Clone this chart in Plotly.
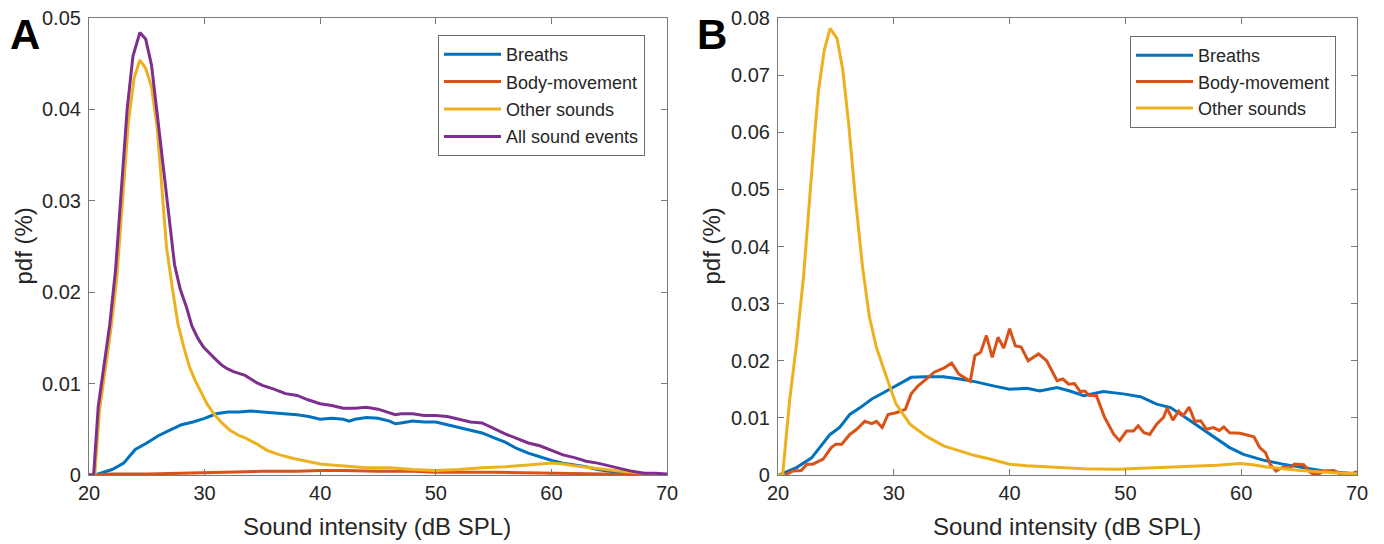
import plotly.graph_objects as go

# ---------------- Panel A data ----------------
a_all_x = [20.0, 20.4, 20.8, 21.3, 21.8, 22.3, 22.8, 23.3, 23.8, 24.4, 24.9, 25.4, 25.9, 26.4, 26.9,
           27.4, 27.9, 28.4, 28.9, 29.4, 29.9, 30.5, 31.0, 31.5, 32.0, 32.5, 33.0, 33.5, 34.0, 34.5,
           35.0, 36.0, 37.0, 38.0, 39.0, 40.0, 41.0, 42.0, 43.0, 44.0, 45.0, 46.0, 46.5, 47.0, 48.0,
           49.0, 50.0, 51.0, 52.0, 53.0, 54.0, 55.0, 56.0, 57.0, 58.0, 59.0, 60.0, 61.0, 62.0, 63.0,
           64.0, 65.0, 66.0, 67.0, 68.0, 69.0, 70.0]
a_all_y = [0, 0, 0.0075, 0.0120, 0.0165, 0.0225, 0.0310, 0.0400, 0.0458, 0.0484, 0.0477, 0.0449, 0.0395, 0.0340, 0.0290,
           0.0230, 0.0203, 0.0185, 0.0163, 0.0150, 0.0140, 0.0132, 0.0126, 0.0120, 0.0116, 0.0113, 0.0111, 0.0109, 0.0105, 0.0101,
           0.0098, 0.0094, 0.0089, 0.0087, 0.0082, 0.0078, 0.0076, 0.0073, 0.0073, 0.0074, 0.0072, 0.0068, 0.0066, 0.0067, 0.0067,
           0.0065, 0.0065, 0.0064, 0.0061, 0.0058, 0.0057, 0.0051, 0.0045, 0.0040, 0.0035, 0.0032, 0.0027, 0.0022, 0.0019, 0.0015,
           0.0013, 0.0010, 0.0007, 0.0004, 0.0002, 0.0002, 0.0001]

a_other_x = [20.0, 20.5, 20.9, 21.4, 21.9, 22.4, 22.9, 23.4, 23.9, 24.4, 24.9, 25.4, 25.9, 26.3, 26.7,
             27.2, 27.7, 28.2, 28.7, 29.2, 29.7, 30.2, 30.8, 31.5, 32.2, 33.0, 33.6, 34.5, 35.4, 36.5,
             37.7, 39.0, 40.0, 41.0, 42.0, 44.0, 46.0, 48.0, 50.0, 52.0, 54.0, 56.0, 58.0, 60.0, 61.0,
             62.0, 64.0, 66.0, 68.0, 70.0]
a_other_y = [0, 0, 0.0070, 0.0115, 0.0160, 0.0215, 0.0300, 0.0385, 0.0434, 0.0454, 0.0445, 0.0425, 0.0380, 0.0310, 0.0250,
             0.0205, 0.0165, 0.0140, 0.0118, 0.0103, 0.0090, 0.0078, 0.0067, 0.0057, 0.0049, 0.0043, 0.0040, 0.0034, 0.0027, 0.0022,
             0.0018, 0.0015, 0.0012, 0.0011, 0.0010, 0.0008, 0.0008, 0.0006, 0.0005, 0.0006, 0.0008, 0.0009, 0.0011, 0.0013, 0.0012,
             0.0010, 0.0007, 0.0004, 0.0002, 0.0000]

a_breath_x = [20.0, 20.5, 21.0, 22.0, 23.0, 23.5, 24.0, 25.0, 26.0, 27.0, 28.0, 29.0, 30.0, 31.0, 32.0,
              33.0, 34.0, 35.0, 36.0, 37.0, 38.0, 39.0, 40.0, 41.0, 42.0, 42.5, 43.0, 44.0, 45.0, 46.0,
              46.5, 47.0, 48.0, 49.0, 50.0, 51.0, 52.0, 53.0, 54.0, 55.0, 56.0, 57.0, 58.0, 59.0, 60.0,
              61.0, 62.0, 63.0, 64.0, 65.0, 66.0, 67.0, 68.0, 70.0]
a_breath_y = [0, 0, 0.0002, 0.0006, 0.0013, 0.0020, 0.0028, 0.0035, 0.0043, 0.0049, 0.0055, 0.0058, 0.0062, 0.0067, 0.0069,
              0.0069, 0.0070, 0.0069, 0.0068, 0.0067, 0.0066, 0.0064, 0.0061, 0.0062, 0.0061, 0.0059, 0.0061, 0.0063, 0.0062, 0.0059,
              0.0056, 0.0057, 0.0059, 0.0058, 0.0058, 0.0055, 0.0052, 0.0049, 0.0046, 0.0041, 0.0036, 0.0029, 0.0024, 0.0020, 0.0016,
              0.0013, 0.0011, 0.0009, 0.0006, 0.0004, 0.0003, 0.0002, 0.0001, 0.0]

a_body_x = [20.0, 22.0, 25.0, 28.0, 30.0, 32.0, 35.0, 38.0, 40.0, 42.0, 45.0, 48.0, 50.0, 55.0, 60.0, 65.0, 68.0, 70.0]
a_body_y = [0, 0.0001, 0.0001, 0.0002, 0.0002, 0.0003, 0.0004, 0.0004, 0.0005, 0.0005, 0.0004, 0.0004, 0.0003, 0.0003,
            0.0002, 0.0001, 0.0001, 0.0]

# ---------------- Panel B data ----------------
b_other_x = [20.0, 20.4, 21.0, 21.6, 22.2, 22.7, 23.2, 23.5, 24.0, 24.5, 25.1, 25.6, 26.1, 26.7, 27.3,
             27.9, 28.5, 29.4, 30.2, 31.4, 32.8, 34.3, 35.7, 37.0, 38.3, 40.0, 41.5, 43.5, 46.4, 49.2,
             52.1, 55.0, 57.9, 59.9, 61.0, 62.2, 65.1, 68.0, 70.0]
b_other_y = [0, 0, 0.0130, 0.0229, 0.0346, 0.0481, 0.0604, 0.0674, 0.0744, 0.0782, 0.0764, 0.0709, 0.0615, 0.0481, 0.0364,
             0.0276, 0.0223, 0.0170, 0.0124, 0.0089, 0.0068, 0.0051, 0.0042, 0.0034, 0.0028, 0.0019, 0.0016, 0.0014, 0.0011, 0.0010,
             0.0012, 0.0014, 0.0017, 0.0020, 0.0018, 0.0014, 0.0008, 0.0004, 0.0002]

b_breath_x = [20.1, 21.6, 22.9, 23.6, 24.5, 25.3, 26.2, 27.1, 28.1, 29.1, 30.2, 31.5, 32.8, 34.3, 35.7,
              37.1, 38.6, 40.0, 41.5, 42.6, 44.1, 45.2, 46.4, 48.1, 49.8, 51.3, 52.7, 53.9, 55.6, 57.3,
              59.0, 60.2, 61.9, 63.6, 65.4, 67.1, 68.8, 70.0]
b_breath_y = [0, 0.0013, 0.0030, 0.0048, 0.0071, 0.0083, 0.0106, 0.0118, 0.0133, 0.0144, 0.0156, 0.0171, 0.0172, 0.0172, 0.0168,
              0.0163, 0.0156, 0.0150, 0.0152, 0.0147, 0.0153, 0.0147, 0.0139, 0.0146, 0.0142, 0.0137, 0.0124, 0.0118, 0.0095, 0.0071,
              0.0048, 0.0036, 0.0026, 0.0019, 0.0013, 0.0007, 0.0004, 0.0002]

b_body_x = [20.6, 21.3, 22.0, 22.5, 23.0, 23.9, 24.6, 25.0, 25.5, 26.2, 26.8, 27.5, 28.1, 28.5, 29.0,
            29.5, 30.2, 31.0, 31.5, 32.1, 32.8, 33.5, 34.4, 35.0, 35.6, 36.6, 37.0, 37.5, 38.0, 38.5,
            39.0, 39.5, 40.0, 40.5, 41.0, 41.6, 42.5, 43.2, 44.1, 44.6, 45.1, 45.6, 46.1, 46.5, 46.9,
            47.5, 48.2, 49.0, 49.5, 50.1, 50.7, 51.1, 51.6, 52.1, 52.7, 53.3, 53.6, 54.1, 54.6, 55.0,
            55.5, 56.0, 56.5, 57.0, 57.6, 58.1, 58.5, 59.0, 59.9, 61.1, 61.6, 62.1, 62.5, 63.0, 63.6,
            64.2, 64.6, 65.4, 66.0, 66.5, 67.2, 68.0, 68.5, 69.4, 70.0]
b_body_y = [0, 0.0007, 0.0008, 0.0019, 0.0019, 0.0028, 0.0048, 0.0054, 0.0054, 0.0071, 0.0080, 0.0094, 0.0090, 0.0094, 0.0083,
            0.0106, 0.0109, 0.0115, 0.0142, 0.0156, 0.0168, 0.0180, 0.0188, 0.0196, 0.0177, 0.0164, 0.0209, 0.0215, 0.0244, 0.0206,
            0.0241, 0.0222, 0.0256, 0.0226, 0.0224, 0.0200, 0.0212, 0.0200, 0.0165, 0.0168, 0.0159, 0.0160, 0.0146, 0.0147, 0.0139,
            0.0139, 0.0101, 0.0071, 0.0060, 0.0077, 0.0077, 0.0086, 0.0074, 0.0071, 0.0089, 0.0101, 0.0117, 0.0096, 0.0112, 0.0104,
            0.0119, 0.0094, 0.0095, 0.0080, 0.0083, 0.0078, 0.0084, 0.0074, 0.0073, 0.0067, 0.0048, 0.0039, 0.0019, 0.0007, 0.0014,
            0.0012, 0.0019, 0.0018, 0.0004, 0.0000, 0.0007, 0.0008, 0.0002, 0.0001, 0.0006]

x_ticks = [20, 30, 40, 50, 60, 70]
a_y_ticks = [0, 0.01, 0.02, 0.03, 0.04, 0.05]
a_y_labels = ["0", "0.01", "0.02", "0.03", "0.04", "0.05"]
b_y_ticks = [0, 0.01, 0.02, 0.03, 0.04, 0.05, 0.06, 0.07, 0.08]
b_y_labels = ["0", "0.01", "0.02", "0.03", "0.04", "0.05", "0.06", "0.07", "0.08"]

names = ["Breaths", "Body-movement", "Other sounds", "All sound events"]
colors = ["#0072BD", "#D95319", "#EDB120", "#7E2F8E"]

# page has an 8px body margin; lay out in window pixels and shift
OFF = 8
W, H = 1384 - OFF, 544 - OFF
FONT = "Liberation Sans, Arial, Helvetica, sans-serif"
TXT = "#262626"
LINEW = 3

fig = go.Figure()

panelA = [(a_breath_x, a_breath_y), (a_body_x, a_body_y), (a_other_x, a_other_y), (a_all_x, a_all_y)]
for i, (xs, ys) in enumerate(panelA):
    fig.add_trace(go.Scatter(x=xs, y=ys, mode="lines", name=names[i],
                             line=dict(color=colors[i], width=LINEW),
                             legendgroup="a%d" % i,
                             xaxis="x", yaxis="y", legend="legend"))

panelB = [(b_breath_x, b_breath_y), (b_body_x, b_body_y), (b_other_x, b_other_y)]
for i, (xs, ys) in enumerate(panelB):
    fig.add_trace(go.Scatter(x=xs, y=ys, mode="lines", name=names[i],
                             line=dict(color=colors[i], width=LINEW),
                             xaxis="x2", yaxis="y2", legend="legend2"))

def px_x(p):
    return (p - OFF) / W

def px_y(p):
    return 1 - (p - OFF) / H

ax_common = dict(showline=True, linecolor="#7a7a7a", linewidth=1.2, mirror="allticks",
                 ticks="inside", ticklen=6, tickcolor="#7a7a7a", tickwidth=1,
                 showgrid=False, zeroline=False, automargin=False,
                 ticklabeloverflow="allow",
                 tickfont=dict(family=FONT, size=20, color=TXT))

ydom = [px_y(475), px_y(18)]
fig.update_layout(
    width=W, height=H,
    margin=dict(l=0, r=0, t=0, b=0),
    paper_bgcolor="white", plot_bgcolor="white",
    font=dict(family=FONT, color=TXT),
    xaxis=dict(domain=[px_x(89), px_x(667)], range=[20, 70], tickvals=x_ticks, anchor="y", **ax_common),
    yaxis=dict(domain=ydom, range=[0, 0.05], tickvals=a_y_ticks, ticktext=a_y_labels, anchor="x",
               ticklabelstandoff=3, **ax_common),
    xaxis2=dict(domain=[px_x(778), px_x(1357)], range=[20, 70], tickvals=x_ticks, anchor="y2", **ax_common),
    yaxis2=dict(domain=ydom, range=[0, 0.08], tickvals=b_y_ticks, ticktext=b_y_labels, anchor="x2",
                ticklabelstandoff=3, **ax_common),
    legend=dict(x=px_x(438), y=px_y(35), xanchor="left", yanchor="top", itemwidth=57,
                tracegroupgap=1,
                bgcolor="white", bordercolor="#6e6e6e", borderwidth=1,
                font=dict(family=FONT, size=18, color=TXT)),
    legend2=dict(x=px_x(1130), y=px_y(36), xanchor="left", yanchor="top", itemwidth=57,
                 bgcolor="white", bordercolor="#6e6e6e", borderwidth=1,
                 font=dict(family=FONT, size=18, color=TXT)),
    showlegend=True,
)

title_font = dict(family=FONT, size=24, color=TXT)
annos = [
    dict(text="Sound intensity (dB SPL)", x=px_x(377), y=px_y(526), yanchor="middle", font=title_font),
    dict(text="Sound intensity (dB SPL)", x=px_x(1067), y=px_y(526), yanchor="middle", font=title_font),
    dict(text="pdf (%)", x=px_x(23), y=px_y(246.5), yanchor="middle", textangle=-90, font=title_font),
    dict(text="pdf (%)", x=px_x(711), y=px_y(246.5), yanchor="middle", textangle=-90, font=title_font),
    dict(text="<b>A</b>", x=px_x(25), y=px_y(9), yanchor="top", font=dict(family="Liberation Sans, Arial", size=42, color="black")),
    dict(text="<b>B</b>", x=px_x(712), y=px_y(9), yanchor="top", font=dict(family="Liberation Sans, Arial", size=42, color="black")),
]
for a in annos:
    fig.add_annotation(xref="paper", yref="paper", showarrow=False,
                       xanchor="center", **a)

fig.write_html("out.html")
